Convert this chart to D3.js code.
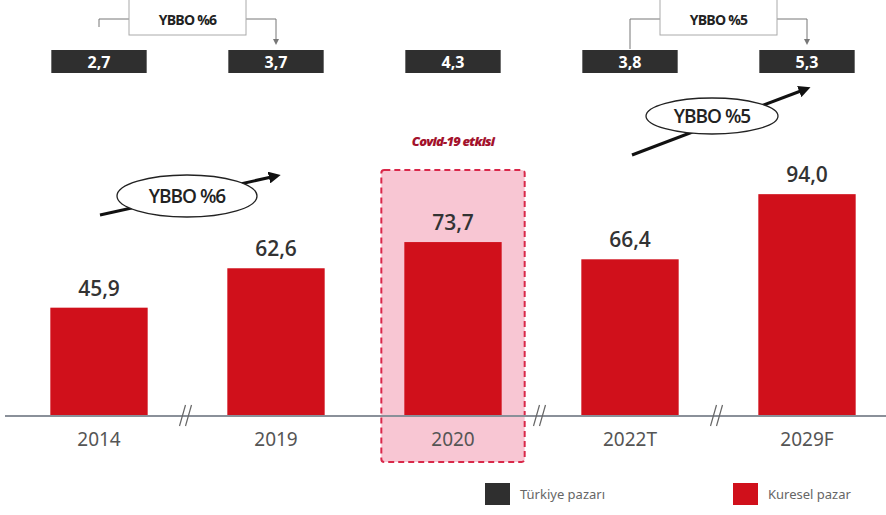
<!DOCTYPE html>
<html><head><meta charset="utf-8">
<script src="https://cdn.jsdelivr.net/npm/d3@7"></script>
<style>body{margin:0;background:#fff}svg{display:block}</style>
</head><body>
<svg id="c" width="886" height="515"></svg>
<script>
const categories = ["2014","2019","2020","2022T","2029F"];
const globalMarket = [45.9, 62.6, 73.7, 66.4, 94.0];
const turkeyMarket = [2.7, 3.7, 4.3, 3.8, 5.3];
const cagrTop = [{from:"2014", to:"2019", label:"YBBO %6"}, {from:"2022T", to:"2029F", label:"YBBO %5"}];
const cagrArrows = ["YBBO %6", "YBBO %5"];
const highlight = "2020";
const highlightLabel = "Covid-19 etkisi";
const breaksAfter = ["2014","2020","2022T"];
const legendLabels = ["Türkiye pazarı", "Kuresel pazar"];

const RED = "#d0101b", DARK = "#2f2f2f";
const svg = d3.select("#c");
const fmt = v => d3.format(".1f")(v).replace(".", ",");

const x = d3.scaleBand().domain(categories).range([10.5, 895.5]).paddingInner(0.45).paddingOuter(0.225);
const y = d3.scaleLinear().domain([0, 100]).range([416, 180]);
const bw = x.bandwidth();

// highlight box
const hx = x(highlight);
svg.append("rect").attr("x", hx - 23).attr("y", 170).attr("width", bw + 46).attr("height", 292)
  .attr("rx", 3).attr("fill", "#f8c6d3").attr("stroke", "#d9284a").attr("stroke-width", 2)
  .attr("stroke-dasharray", "6,4");
svg.append("text").attr("x", hx + bw/2).attr("y", 146).attr("text-anchor", "middle")
  .attr("font-family", "Open Sans").attr("font-style", "italic").attr("font-weight", 800)
  .attr("font-size", 13).attr("letter-spacing", "-0.8").attr("fill", "#a3122c").text(highlightLabel);

// bars
svg.selectAll("rect.bar").data(globalMarket).join("rect").attr("class","bar")
  .attr("x", (d,i) => x(categories[i])).attr("y", d => y(d))
  .attr("width", bw).attr("height", d => y(0) - y(d)).attr("fill", RED);

// value labels
svg.selectAll("text.val").data(globalMarket).join("text").attr("class","val")
  .attr("x", (d,i) => x(categories[i]) + bw/2).attr("y", d => y(d) - 12)
  .attr("text-anchor", "middle").attr("font-family", "Open Sans").attr("font-weight", 600)
  .attr("font-size", 21).attr("fill", "#333").text(fmt);

// axis
const ax = svg.append("g").attr("transform", "translate(0,416)")
  .call(d3.axisBottom(x).tickSize(0).tickPadding(17));
ax.select(".domain").attr("d", "M5,0H886").attr("stroke", "#8a9099").attr("stroke-width", 2);
ax.selectAll("text").attr("font-family", "Noto Sans").attr("font-size", 19).attr("fill", "#555");

// breaks
breaksAfter.forEach(c => {
  const i = categories.indexOf(c);
  const bx = (x(c) + bw + x(categories[i+1])) / 2 - 2;
  [-3, 3].forEach(o => {
    svg.append("line").attr("x1", bx + o - 3).attr("y1", 426).attr("x2", bx + o + 3).attr("y2", 405)
      .attr("stroke", "#666").attr("stroke-width", 1.2);
  });
});

// turkey boxes
svg.selectAll("rect.tr").data(turkeyMarket).join("rect").attr("class","tr")
  .attr("x", (d,i) => x(categories[i]) + 1).attr("y", 50).attr("width", bw - 2).attr("height", 23)
  .attr("fill", DARK);
svg.selectAll("text.tr").data(turkeyMarket).join("text").attr("class","tr")
  .attr("x", (d,i) => x(categories[i]) + bw/2).attr("y", 68).attr("text-anchor", "middle")
  .attr("font-family", "Open Sans").attr("font-weight", 700).attr("font-size", 16)
  .attr("fill", "#fff").text(fmt);

// top brackets
svg.append("defs").append("marker").attr("id","ah").attr("viewBox","0 0 10 10").attr("refX",5).attr("refY",5)
  .attr("markerWidth",6).attr("markerHeight",6).attr("orient","auto")
  .append("path").attr("d","M0,0L10,5L0,10z").attr("fill","#777");
cagrTop.forEach(b => {
  const x1 = x(b.from) + bw/2, x2 = x(b.to) + bw/2;
  const cx = (x1 + x2)/2;
  const bwid = 117;
  svg.append("path").attr("d", `M${x1},${b.from==="2014"?27:49}V19H${cx - bwid/2}`)
    .attr("fill","none").attr("stroke","#777").attr("stroke-width",1);
  svg.append("path").attr("d", `M${cx + bwid/2},19H${x2}V42`).attr("fill","none")
    .attr("stroke","#777").attr("stroke-width",1).attr("marker-end","url(#ah)");
  svg.append("rect").attr("x", cx - bwid/2).attr("y", -2).attr("width", bwid).attr("height", 37)
    .attr("fill","#fff").attr("stroke","#aaa").attr("stroke-width",1);
  svg.append("text").attr("x", cx).attr("y", 25).attr("text-anchor","middle")
    .attr("font-family","Open Sans").attr("font-weight",700).attr("font-size",14)
    .attr("letter-spacing","-0.8").attr("fill","#222").text(b.label);
});

// growth arrows with ellipses
const arrowSpecs = [
  {x1:100, y1:215, x2:276, y2:176, cx:187, cy:196, rx:70, ry:21},
  {x1:632, y1:155, x2:806, y2:89, cx:712, cy:116, rx:66, ry:18}
];
svg.select("defs").append("marker").attr("id","ah2").attr("viewBox","0 0 10 10").attr("refX",6).attr("refY",5)
  .attr("markerWidth",4).attr("markerHeight",4).attr("orient","auto")
  .append("path").attr("d","M0,0L10,5L0,10z").attr("fill","#111");
cagrArrows.forEach((lab, i) => {
  const s = arrowSpecs[i];
  svg.append("line").attr("x1", s.x1).attr("y1", s.y1).attr("x2", s.x2).attr("y2", s.y2)
    .attr("stroke","#111").attr("stroke-width",3).attr("marker-end","url(#ah2)");
  svg.append("ellipse").attr("cx", s.cx).attr("cy", s.cy).attr("rx", s.rx).attr("ry", s.ry)
    .attr("fill","#fff").attr("stroke","#222").attr("stroke-width",1.3);
  svg.append("text").attr("x", s.cx).attr("y", s.cy + 7).attr("text-anchor","middle")
    .attr("font-family","Open Sans").attr("font-weight",600).attr("font-size",19)
    .attr("letter-spacing","-1").attr("fill","#222").text(lab);
});

// legend
const legX = [485, 733], legC = [DARK, RED];
legendLabels.forEach((l, i) => {
  svg.append("rect").attr("x", legX[i]).attr("y", 483).attr("width", 25).attr("height", 22).attr("fill", legC[i]);
  svg.append("text").attr("x", legX[i] + 35).attr("y", 499).attr("font-family","Noto Sans")
    .attr("font-size", 13).attr("fill","#666").text(l);
});
</script>
</body></html>
